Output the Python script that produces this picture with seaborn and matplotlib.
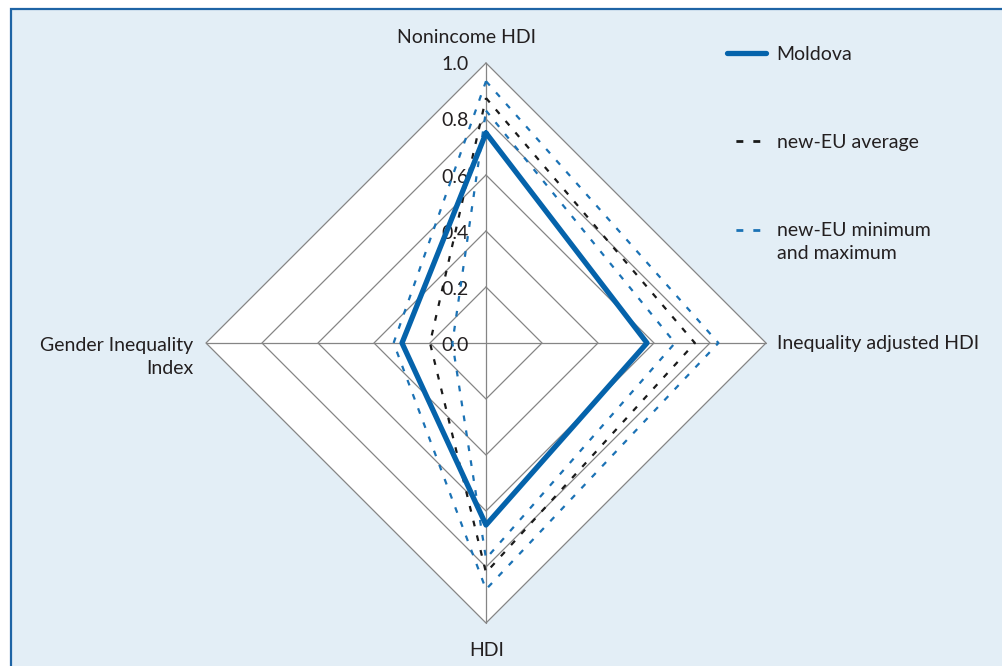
import numpy as np
import pandas as pd
import matplotlib
matplotlib.use("Agg")
import matplotlib.pyplot as plt
from matplotlib.lines import Line2D
from matplotlib.patches import Rectangle, Polygon
from matplotlib.legend_handler import HandlerLine2D
import seaborn as sns

sns.set_style("white")
plt.rcParams['font.family'] = ['Lato', 'DejaVu Sans']

# axes of the radar, clockwise from the top
axes_names = ["Nonincome HDI", "Inequality adjusted HDI", "HDI", "Gender Inequality\nIndex"]
ring_levels = [0.2, 0.4, 0.6, 0.8, 1.0]
tick_labels = ["0.0", "0.2", "0.4", "0.6", "0.8", "1.0"]

moldova = [0.75, 0.575, 0.65, 0.30]
eu_avg = [0.875, 0.746, 0.82, 0.20]
eu_min = [0.83, 0.675, 0.77, 0.12]
eu_max = [0.935, 0.83, 0.88, 0.33]

BLUE = "#0563ab"
DBLUE = "#1b72b5"
GREY = "#858585"
TXT = "#231f20"
BG = "#e3eef6"
FS = 14

theta = np.pi / 2 - np.arange(len(axes_names)) * np.pi / 2


def to_xy(vals, name):
    v = np.r_[vals, vals[0]]
    t = np.r_[theta, theta[0]]
    return pd.DataFrame({"x": v * np.cos(t), "y": v * np.sin(t), "series": name})


class HandlerTop(HandlerLine2D):
    # put the legend key next to the first line of a two-line label
    def __init__(self, shift=0, **kw):
        super().__init__(**kw)
        self.shift = shift

    def create_artists(self, *args, **kw):
        arts = super().create_artists(*args, **kw)
        for a in arts:
            a.set_ydata(np.asarray(a.get_ydata()) + self.shift)
        return arts


W, H = 1003, 666
fig = plt.figure(figsize=(W / 100, H / 100), dpi=100)
fig.patch.set_facecolor("white")
fig.patches.append(Rectangle((11 / W, -0.1), 1.2, 1.1 - 9 / H, transform=fig.transFigure,
                             facecolor=BG, edgecolor="#1e64a5", lw=1.6, zorder=-5))

ax = fig.add_axes([0, 0, 1, 1])
ax.set_facecolor("none")
cx, cy, R = 486, 343, 280
ax.axis("off")

# white inner diamond + grid
outer = to_xy([1.0] * 4, "grid")
ax.add_patch(Polygon(outer[["x", "y"]].values, closed=True, facecolor="white",
                     edgecolor="none", zorder=1))
for lv in ring_levels:
    g = to_xy([lv] * 4, "grid")
    ax.plot(g["x"], g["y"], color=GREY, lw=0.9, zorder=2)
for t in theta:
    ax.plot([0, np.cos(t)], [0, np.sin(t)], color=GREY, lw=0.9, zorder=2)

# tick labels on the top axis
for lab, lv in zip(tick_labels, [0.0] + ring_levels):
    ax.text(-17 / R, lv - 2 / R, lab, ha="right", va="center", fontsize=FS, color=TXT, zorder=3)

# axis labels
ax.text(-19 / R, 306 / R, axes_names[0], ha="center", va="center", fontsize=FS, color=TXT)
ax.text(291 / R, 0, axes_names[1], ha="left", va="center", fontsize=FS, color=TXT)
ax.text(1 / R, -307 / R, axes_names[2], ha="center", va="center", fontsize=FS, color=TXT)
ax.text(-293 / R, -14 / R, axes_names[3], ha="right", va="center", fontsize=FS,
        color=TXT, multialignment="right", linespacing=1.45)

dash = (0, (2.6, 4.2))
for vals in [eu_max, eu_min]:
    sns.lineplot(data=to_xy(vals, "mm"), x="x", y="y", sort=False, estimator=None,
                 color=DBLUE, lw=1.6, linestyle=dash, ax=ax, zorder=4)
sns.lineplot(data=to_xy(eu_avg, "avg"), x="x", y="y", sort=False, estimator=None,
             color="#1a1a1a", lw=1.6, linestyle=dash, ax=ax, zorder=4)
sns.lineplot(data=to_xy(moldova, "md"), x="x", y="y", sort=False, estimator=None,
             color=BLUE, lw=3.8, ax=ax, zorder=5)
ax.set_xlim(-cx / R, (W - cx) / R)
ax.set_ylim(-(H - cy) / R, cy / R)

h_md = Line2D([], [], color=BLUE, lw=3.8)
h_avg = Line2D([], [], color="#1a1a1a", lw=2.0, linestyle=(2.9, (2.5, 3.6)))
h_mm = Line2D([], [], color=DBLUE, lw=2.0, linestyle=(2.9, (2.5, 3.6)))
labels = ["Moldova", "new-EU average", "new-EU minimum\nand maximum"]
leg = fig.legend([h_md, h_avg, h_mm], labels, loc="upper left",
                 bbox_to_anchor=(727 / W, 1 - 46 / H),
                 frameon=False, fontsize=FS, handlelength=2.0, handletextpad=0.55,
                 labelspacing=3.65, borderaxespad=0, borderpad=0,
                 handler_map={h_mm: HandlerTop(shift=9)})
for t in leg.get_texts():
    t.set_color(TXT)
    t.set_linespacing(1.45)

fig.savefig("out.png", dpi=100, facecolor=fig.get_facecolor())
